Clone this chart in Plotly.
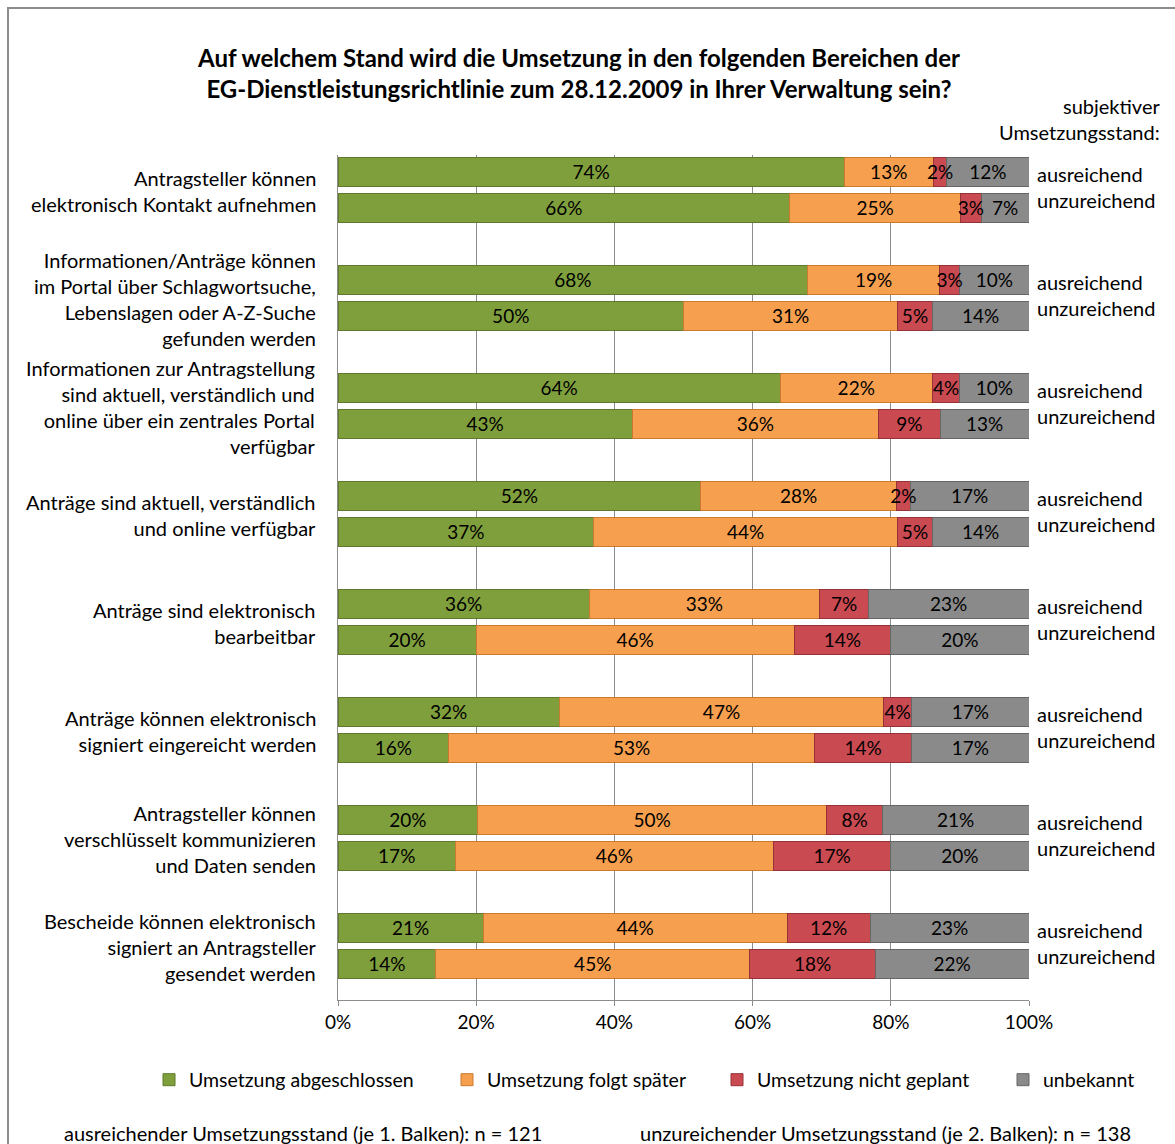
import plotly.graph_objects as go

# ---------------- data ----------------
categories = [
    "Antragsteller können<br>elektronisch Kontakt aufnehmen",
    "Informationen/Anträge können<br>im Portal über Schlagwortsuche,<br>Lebenslagen oder A-Z-Suche<br>gefunden werden",
    "Informationen zur Antragstellung<br>sind aktuell, verständlich und<br>online über ein zentrales Portal<br>verfügbar",
    "Anträge sind aktuell, verständlich<br>und online verfügbar",
    "Anträge sind elektronisch<br>bearbeitbar",
    "Anträge können elektronisch<br>signiert eingereicht werden",
    "Antragsteller können<br>verschlüsselt kommunizieren<br>und Daten senden",
    "Bescheide können elektronisch<br>signiert an Antragsteller<br>gesendet werden",
]
series_names = ["Umsetzung abgeschlossen", "Umsetzung folgt später",
                "Umsetzung nicht geplant", "unbekannt"]
# first bar of each group: "ausreichend", second bar: "unzureichend"
abgeschlossen_aus = [74, 68, 64, 52, 36, 32, 20, 21]
abgeschlossen_unz = [66, 50, 43, 37, 20, 16, 17, 14]
spaeter_aus = [13, 19, 22, 28, 33, 47, 50, 44]
spaeter_unz = [25, 31, 36, 44, 46, 53, 46, 45]
nicht_aus = [2, 3, 4, 2, 7, 4, 8, 12]
nicht_unz = [3, 5, 9, 5, 14, 14, 17, 18]
unbekannt_aus = [12, 10, 10, 17, 23, 17, 21, 23]
unbekannt_unz = [7, 14, 13, 14, 20, 17, 20, 22]
bar_labels = ["ausreichend", "unzureichend"]
x_ticks = [0, 20, 40, 60, 80, 100]

colors = ["#7f9f3d", "#f6a04f", "#c94a50", "#8a8a8a"]
edge = ["#5e7a2a", "#c97a30", "#963236", "#666666"]

FONT = "Lato, Carlito, Calibri, sans-serif"
FS = 20

W, H = 1175, 1144
L, R, T, B = 338, 1029, 155, 1000

series = [
    (abgeschlossen_aus, abgeschlossen_unz),
    (spaeter_aus, spaeter_unz),
    (nicht_aus, nicht_unz),
    (unbekannt_aus, unbekannt_unz),
]

n = len(categories)
ypos = []
for i in range(n):
    ypos += [3 * i, 3 * i + 1]

# interleave values: (group i, ausreichend), (group i, unzureichend)
vals = []
for aus, unz in series:
    xs = []
    for i in range(n):
        xs += [aus[i], unz[i]]
    vals.append(xs)

fig = go.Figure()
for k, xs in enumerate(vals):
    fig.add_trace(go.Bar(
        y=ypos, x=xs, orientation="h", name=series_names[k],
        width=0.81,
        marker=dict(color=colors[k], line=dict(color=edge[k], width=1)),
        legend="legend" if k == 0 else f"legend{k+1}",
        showlegend=True,
        hoverinfo="skip",
    ))

# value labels drawn on top of all bars (centred in each normalised segment)
TEXT_NUDGE = 0.06  # small baseline correction so the text sits centred
lab_x, lab_y, lab_t = [], [], []
for b in range(len(ypos)):
    total = sum(vals[k][b] for k in range(4))
    cum = 0
    for k in range(4):
        v = vals[k][b]
        lab_x.append((cum + v / 2) / total * 100)
        lab_y.append(ypos[b] + TEXT_NUDGE)
        lab_t.append(f"{v}%")
        cum += v
fig.add_trace(go.Scatter(
    x=lab_x, y=lab_y, text=lab_t, mode="text", textposition="middle center",
    textfont=dict(family=FONT, size=19, color="#000000"),
    showlegend=False, hoverinfo="skip", cliponaxis=False,
))

fig.update_layout(
    width=W, height=H,
    margin=dict(l=L, r=W - R, t=T, b=H - B),
    barmode="stack", barnorm="percent",
    showlegend=True,
    paper_bgcolor="white", plot_bgcolor="white",
    font=dict(family=FONT, size=FS, color="#000000"),
    title=dict(
        text="<b>Auf welchem Stand wird die Umsetzung in den folgenden Bereichen der<br>"
             "EG-Dienstleistungsrichtlinie zum 28.12.2009 in Ihrer Verwaltung sein?</b>",
        xref="container", yref="container", x=579 / W, y=1 - 67 / H,
        xanchor="center", yanchor="middle",
        font=dict(family=FONT, size=24, color="#000000"),
    ),
    xaxis=dict(
        range=[0, 100], tickvals=x_ticks, ticktext=[f"{v}%" for v in x_ticks],
        showgrid=True, gridcolor="#8c8c8c", gridwidth=1,
        showline=True, linecolor="#8c8c8c", linewidth=1,
        ticks="outside", ticklen=5, tickcolor="#8c8c8c",
        zeroline=False, tickfont=dict(size=19), fixedrange=True,
    ),
    yaxis=dict(
        range=[23.0, -0.47], showticklabels=False, showgrid=False,
        zeroline=False, showline=True, linecolor="#8c8c8c", linewidth=1,
        fixedrange=True,
    ),
)

# legends, one per series, placed individually
leg_x = [149, 447, 717, 1003]
for k in range(4):
    key = "legend" if k == 0 else f"legend{k+1}"
    fig.update_layout(**{key: dict(
        orientation="h", xref="container", yref="container",
        x=leg_x[k] / W, y=1 - 1080 / H, xanchor="left", yanchor="middle",
        font=dict(family=FONT, size=19.5), itemwidth=30,
        bgcolor="rgba(0,0,0,0)",
    )})

def px_x(p):
    return (p - L) / (R - L)

def px_y(p):
    return (B - p) / (B - T)

# category labels (left) and bar labels (right)
for i, cat in enumerate(categories):
    yc = 3 * i + 0.5
    fig.add_annotation(x=0, xref="paper", y=yc, yref="y", text=cat,
                       xanchor="right", yanchor="middle", align="right",
                       xshift=-20, yshift=-1, showarrow=False,
                       font=dict(family=FONT, size=FS))
    fig.add_annotation(x=1, xref="paper", y=yc, yref="y",
                       text="<br>".join(bar_labels),
                       xanchor="left", yanchor="middle", align="left",
                       xshift=6, yshift=3, showarrow=False,
                       font=dict(family=FONT, size=FS))

fig.add_annotation(x=px_x(1162), xref="paper", y=px_y(119), yref="paper",
                   text="subjektiver<br>Umsetzungsstand:", xanchor="right",
                   yanchor="middle", align="right", showarrow=False,
                   font=dict(family=FONT, size=FS))

fig.add_annotation(x=px_x(62), xref="paper", y=px_y(1133), yref="paper",
                   text="ausreichender Umsetzungsstand (je 1. Balken): n = 121",
                   xanchor="left", yanchor="middle", showarrow=False,
                   font=dict(family=FONT, size=FS))
fig.add_annotation(x=px_x(638), xref="paper", y=px_y(1133), yref="paper",
                   text="unzureichender Umsetzungsstand (je 2. Balken): n = 138",
                   xanchor="left", yanchor="middle", showarrow=False,
                   font=dict(family=FONT, size=FS))

# outer chart frame
fig.add_shape(type="rect", xref="paper", yref="paper",
              x0=px_x(8), x1=px_x(1185), y0=px_y(1160), y1=px_y(8),
              line=dict(color="#8c8c8c", width=2), fillcolor="rgba(0,0,0,0)",
              layer="below")

fig.write_html("out.html")
